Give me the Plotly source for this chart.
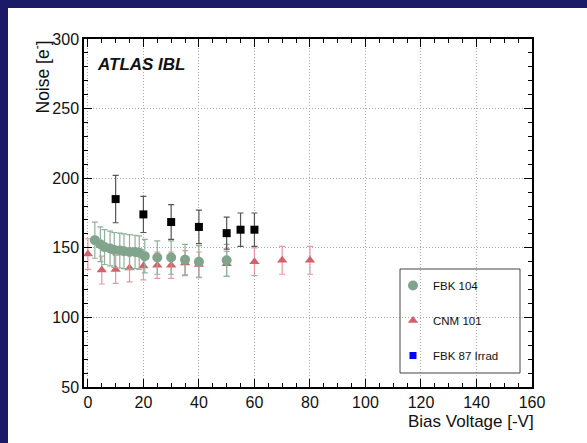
import plotly.graph_objects as go

# ---- data ----
fbk104_x = [2.5, 4.5, 6, 8, 9.5, 11.5, 13, 15, 17, 18.5, 20.5, 25, 30, 35, 40, 50]
fbk104_y = [155.5, 152.5, 150.5, 149.5, 148.5, 148, 147.5, 147, 147, 146.5, 144, 143, 143, 141.5, 140, 141]
fbk104_err = [13, 12.5, 12.5, 12.5, 12.5, 12.5, 12.5, 12.5, 12, 12, 12, 12, 12, 11, 11.5, 11.5]

cnm101_x = [0, 5, 10, 15, 20, 25, 30, 35, 40, 50, 60, 70, 80]
cnm101_y = [145.5, 134, 134.5, 135.5, 137, 137.5, 137.5, 139, 138, 138.5, 140, 141, 141]
cnm101_err = [11, 10, 10, 10, 10, 9.5, 9.5, 9, 9, 9, 10, 10, 10]

fbk87_x = [10, 20, 30, 40, 50, 55, 60]
fbk87_y = [185, 174, 168.5, 165, 160.5, 163, 163]
fbk87_err = [17, 13, 12.5, 12, 11.5, 12, 12]

x_ticks = [0, 20, 40, 60, 80, 100, 120, 140, 160]
y_ticks = [50, 100, 150, 200, 250, 300]

GREEN = "#80a48c"
GREEN_ERR = "#8fb09a"
RED = "#d6606a"
RED_ERR = "#e8979e"
NAVY = "#1b1a66"
FONT = "Liberation Sans, Arial, sans-serif"

fig = go.Figure()

fig.add_trace(go.Scatter(
    x=cnm101_x, y=cnm101_y, mode="markers", name="CNM 101",
    legendgroup="b", legendrank=2,
    marker=dict(symbol="triangle-up", size=9, color=RED),
    error_y=dict(type="data", array=cnm101_err, color=RED_ERR, thickness=1.2, width=3),
))
fig.add_trace(go.Scatter(
    x=fbk104_x, y=fbk104_y, mode="markers", name="FBK 104",
    legendgroup="a", legendrank=1,
    marker=dict(symbol="circle", size=10, color=GREEN),
    error_y=dict(type="data", array=fbk104_err, color=GREEN_ERR, thickness=1.2, width=3),
))
fig.add_trace(go.Scatter(
    x=fbk87_x, y=fbk87_y, mode="markers", name="FBK 87 Irrad",
    showlegend=False,
    marker=dict(symbol="square", size=8, color="black"),
    error_y=dict(type="data", array=fbk87_err, color="#555555", thickness=1.2, width=3),
))
# legend entry as drawn in the reference (blue square)
fig.add_trace(go.Scatter(
    x=[None], y=[None], mode="markers", name="FBK 87 Irrad",
    legendgroup="c", legendrank=3,
    marker=dict(symbol="square", size=7, color="#0000ff"),
))

axis_common = dict(
    showline=True, linecolor="black", linewidth=1.5, mirror="allticks",
    ticks="inside", ticklen=8, tickcolor="black", tickwidth=1.2,
    showgrid=True, gridcolor="#a8a8a8", griddash="1px,2px", gridwidth=1,
    zeroline=False, tickfont=dict(family=FONT, size=16, color="#111111"),
)

fig.update_xaxes(range=[-1.4, 160], tickvals=x_ticks,
                 minor=dict(dtick=5, tick0=0, ticks="inside", ticklen=4, tickcolor="black", showgrid=False),
                 **axis_common)
fig.update_yaxes(range=[50, 300], tickvals=y_ticks,
                 minor=dict(dtick=10, tick0=0, ticks="inside", ticklen=4, tickcolor="black", showgrid=False),
                 **axis_common)

L, R, T, B = 84, 55, 39, 56
W, H = 587, 443
pw, ph = W - L - R, H - T - B

def px_x(p):
    return (p - L) / pw

def px_y(p):
    return (H - B - p) / ph

fig.update_layout(
    width=W, height=H,
    margin=dict(l=L, r=R, t=T, b=B),
    paper_bgcolor="white", plot_bgcolor="white",
    font=dict(family=FONT, color="#111111"),
    legend=dict(
        x=px_x(393), y=px_y(271), xanchor="left", yanchor="top",
        bgcolor="rgba(0,0,0,0)", borderwidth=0,
        font=dict(family=FONT, size=11.5, color="#111111"),
        traceorder="grouped", tracegroupgap=16,
    ),
    shapes=[
        dict(type="rect", xref="paper", yref="paper", layer="below",
             x0=px_x(0), x1=px_x(W), y0=px_y(0), y1=px_y(8),
             fillcolor=NAVY, line=dict(width=0)),
        dict(type="rect", xref="paper", yref="paper", layer="below",
             x0=px_x(0), x1=px_x(8), y0=px_y(0), y1=px_y(H),
             fillcolor=NAVY, line=dict(width=0)),
        dict(type="rect", xref="paper", yref="paper",
             x0=px_x(400), x1=px_x(520), y0=px_y(269), y1=px_y(373),
             fillcolor="rgba(0,0,0,0)", line=dict(color="#444444", width=1)),
    ],
    annotations=[
        dict(text="<b><i>ATLAS IBL</i></b>", xref="paper", yref="paper",
             x=px_x(95), y=px_y(65), xanchor="left", yanchor="middle",
             showarrow=False, font=dict(family=FONT, size=17, color="#111111")),
        dict(text="Noise [e<sup>-</sup>]", xref="paper", yref="paper",
             x=px_x(41), y=1, xanchor="center", yanchor="top", textangle=-90,
             showarrow=False, font=dict(family=FONT, size=17.5, color="#111111")),
        dict(text="Bias Voltage [-V]", xref="paper", yref="paper",
             x=1.008, y=px_y(421), xanchor="right", yanchor="middle",
             showarrow=False, font=dict(family=FONT, size=17, color="#111111")),
    ],
)

fig.write_html("out.html", config={"displayModeBar": False},
               post_script="document.body.style.margin='0';document.body.style.padding='0';")
